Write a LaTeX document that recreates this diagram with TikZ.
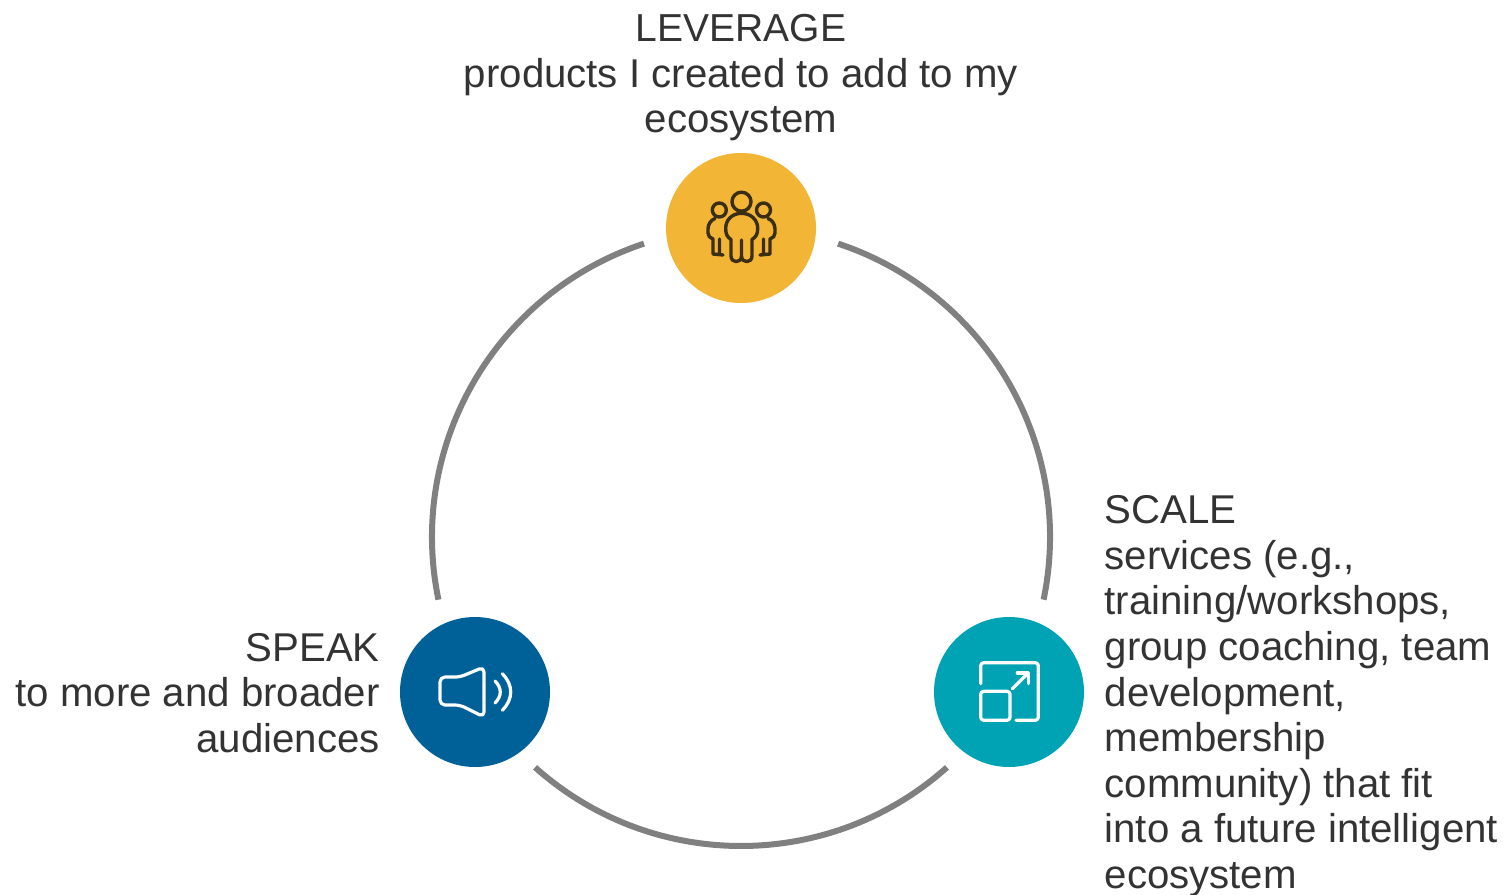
\documentclass[tikz,border=0pt]{standalone}
\usepackage{fontspec}
\setmainfont{Liberation Sans}
\definecolor{ringgray}{HTML}{808080}
\definecolor{txt}{HTML}{333333}
\definecolor{cyellow}{HTML}{F2B535}
\definecolor{cblue}{HTML}{006098}
\definecolor{cteal}{HTML}{00A3B4}
\definecolor{icondark}{HTML}{3A2E14}
\tikzset{
  ring/.style={draw=ringgray,line width=6pt},
  hub/.style={circle,minimum size=150pt,inner sep=0pt},
  lbl/.style={text=txt,font=\fontsize{40.2}{45.6}\selectfont,inner sep=0pt},
  iconw/.style={draw=white,line width=3.2pt,line cap=round,line join=round},
  icond/.style={draw=icondark,line width=3.4pt,line cap=round,line join=round}
}
\begin{document}
\begin{tikzpicture}[x=1pt,y=-1pt]
\useasboundingbox (0,0) rectangle (1511,894);
\coordinate (c) at (741,537);
\node[hub,fill=cyellow] (top) at (741,228) {};
\node[hub,fill=cblue] (left) at (475,692) {};
\node[hub,fill=cteal] (right) at (1009,692) {};
% ring: three arcs in the gaps between the hubs
\draw[ring] (c) ++(-71.7:309) coordinate (ra) arc[start angle=-71.7,end angle=11.7,radius=309];
\draw[ring] (c) ++(48.2:309) coordinate (rb) arc[start angle=48.2,end angle=131.8,radius=309];
\draw[ring] (c) ++(168.3:309) coordinate (rc) arc[start angle=168.3,end angle=251.7,radius=309];
% people icon
\draw[icond] (741.5,201.7) circle[radius=9.5];
\draw[icond] (719.3,210) circle[radius=7];
\draw[icond] (763.5,210) circle[radius=7];
\draw[icond] (741.5,213.3) .. controls (732,213.3) and (725.7,220) .. (725.7,228.3)
  .. controls (725.7,234) and (727,237) .. (731,239.5) -- (731,256)
  .. controls (731,263.5) and (741.5,263.5) .. (741.5,256) -- (741.5,240)
  (741.5,256) .. controls (741.5,263.5) and (752,263.5) .. (752,256) -- (752,239.5)
  .. controls (756,237) and (757.7,234) .. (757.7,228.3)
  .. controls (757.7,220) and (751,213.3) .. (741.5,213.3);
\draw[icond] (715,218.5) .. controls (711,220) and (708,224) .. (708,229) -- (708,233)
  .. controls (708,236) and (710,238) .. (713,239) -- (713,254) -- (723,255)
  (719.5,239) -- (719.5,254);
\draw[icond] (768,218.5) .. controls (772,220) and (775,224) .. (775,229) -- (775,233)
  .. controls (775,236) and (773,238) .. (770,239) -- (770,254) -- (760,255)
  (763.5,239) -- (763.5,254);
% speaker icon
\draw[iconw,rounded corners=5pt] (460,677) -- (440,677) -- (440,705) -- (460,705) -- (484,717) -- (484,667) -- cycle;
\draw[iconw] (495,681) .. controls (502,688) and (502,696) .. (495,703);
\draw[iconw] (502.3,673.7) .. controls (513.5,685) and (513.5,699) .. (502.3,710.3);
% scale icon
\draw[iconw,rounded corners=3pt] (980.7,683.7) -- (980.7,662.7) -- (1038.3,662.7) -- (1038.3,720.3) -- (1016,720.3);
\draw[iconw,rounded corners=3pt] (980.7,691.3) rectangle (1010,720.3);
\draw[iconw] (1012.3,688.7) -- (1028.3,673);
\draw[iconw] (1017.3,673) -- (1028.3,673) -- (1028.3,683.7);
% labels
\node[lbl,align=center,anchor=north] (ltop) at (741,14) {{\fontsize{39}{45.6}\selectfont LEVERAGE}\\products I created to add to my\\ecosystem};
\node[lbl,align=right,anchor=north east] (lleft) at (380,633) {SPEAK\\to more and broader\\audiences};
\node[lbl,align=left,anchor=north west] (lright) at (1104.5,495.5) {SCALE\\services (e.g.,\\training/workshops,\\group coaching, team\\development,\\membership\\community) that fit\\into a future intelligent\\ecosystem};
\end{tikzpicture}
\end{document}
